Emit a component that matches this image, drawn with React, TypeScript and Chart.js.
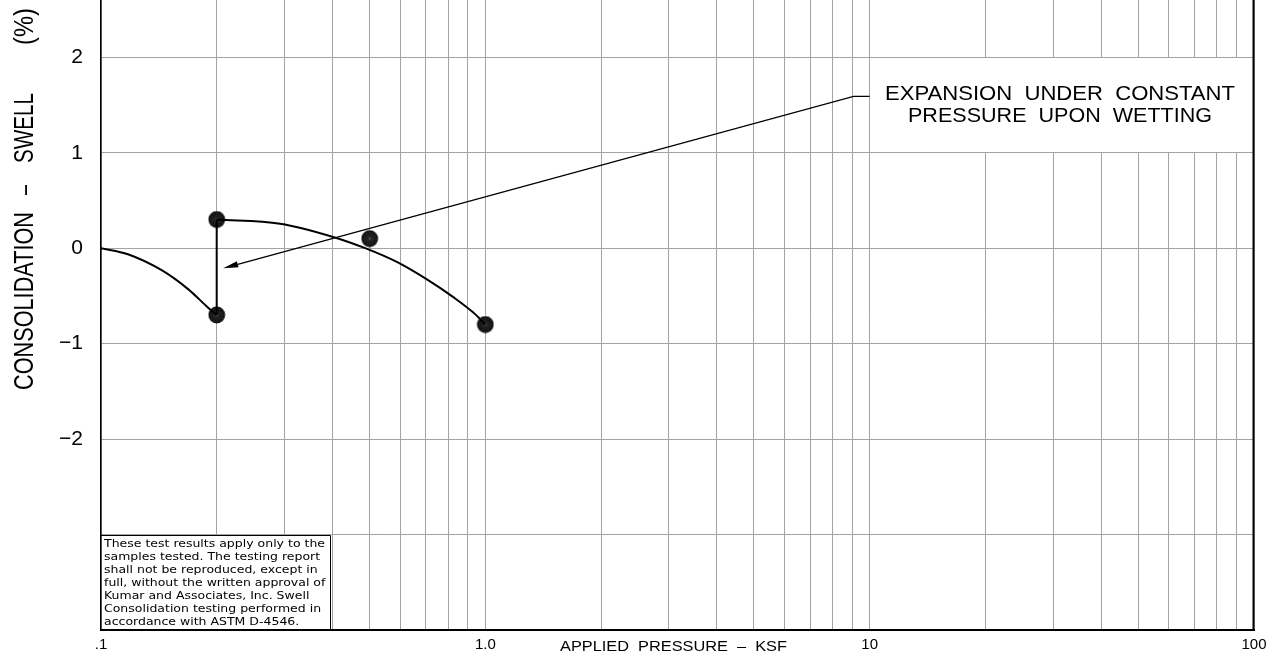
import React, { useEffect, useRef } from "react";
import { Chart, registerables } from "chart.js";

Chart.register(...registerables);

// Swell-consolidation test: applied pressure (ksf, log scale) vs. strain (%)
const LOAD_PRESSURE = [0.1, 0.1175, 0.1442, 0.1685, 0.19, 0.2];
const LOAD_STRAIN = [0, -0.063, -0.233, -0.429, -0.623, -0.7];

const WETTING_PRESSURE = [0.2, 0.2];
const WETTING_STRAIN = [-0.7, 0.3];

const RELOAD_PRESSURE = [0.2, 0.2924, 0.4019, 0.487, 0.5902, 0.7063, 0.8254, 0.9306, 1.0];
const RELOAD_STRAIN = [0.3, 0.257, 0.118, 0, -0.147, -0.33, -0.513, -0.675, -0.8];

const READING_PRESSURE = [0.2, 0.2, 0.5, 1.0];
const READING_STRAIN = [0.3, -0.7, 0.1, -0.8];

// Leader for the wetting note: arrow tip, knee, end at the note box
const LEADER_PRESSURE = [0.208, 9.08, 10];
const LEADER_STRAIN = [-0.21, 1.59, 1.59];

// Axis grid and labels
const X_GRID = [
  0.1, 0.2, 0.3, 0.4, 0.5, 0.6, 0.7, 0.8, 0.9,
  1, 2, 3, 4, 5, 6, 7, 8, 9,
  10, 20, 30, 40, 50, 60, 70, 80, 90, 100,
];
const X_LABEL_VALUES = [0.1, 1, 10, 100];
const X_LABEL_TEXT = [".1", "1.0", "10", "100"];
const Y_GRID = [-4, -3, -2, -1, 0, 1, 2];
const Y_LABEL_VALUES = [-2, -1, 0, 1, 2];

const NOTE_LINES = ["EXPANSION  UNDER  CONSTANT", "PRESSURE  UPON  WETTING"];
const DISCLAIMER_LINES = [
  "These test results apply only to the",
  "samples tested. The testing report",
  "shall not be reproduced, except in",
  "full, without the written approval of",
  "Kumar and Associates, Inc. Swell",
  "Consolidation testing performed in",
  "accordance with ASTM D-4546.",
];
const Y_TITLE_PARTS = ["CONSOLIDATION", "\u2013", "SWELL", "(%)"];
const X_TITLE = "APPLIED  PRESSURE  \u2013  KSF";

const SANS = "'Liberation Sans', Arial, sans-serif";

function pts(xs: number[], ys: number[]) {
  return xs.map((x, i) => ({ x, y: ys[i] }));
}

// Draws text stretched/compressed horizontally to an exact width.
function fitText(ctx: CanvasRenderingContext2D, text: string, x: number, y: number, width: number) {
  const w = ctx.measureText(text).width;
  ctx.save();
  ctx.translate(x, y);
  ctx.scale(width / w, 1);
  ctx.textAlign = "left";
  ctx.fillText(text, 0, 0);
  ctx.restore();
}

function makeMarker(): HTMLCanvasElement {
  const c = document.createElement("canvas");
  c.width = 18;
  c.height = 18;
  const g = c.getContext("2d")!;
  g.beginPath();
  g.arc(9, 9, 8.4, 0, Math.PI * 2);
  g.fillStyle = "#121212";
  g.fill();
  g.strokeStyle = "rgba(95,95,95,0.55)";
  g.lineWidth = 0.6;
  for (let i = 0; i < 12; i++) {
    const a = (i * Math.PI) / 6;
    g.beginPath();
    g.moveTo(9, 9);
    g.lineTo(9 + Math.cos(a) * 7, 9 + Math.sin(a) * 7);
    g.stroke();
  }
  return c;
}

const overlayPlugin = {
  id: "swellOverlay",
  beforeDatasetsDraw(chart: any) {
    const { ctx, chartArea } = chart;
    const xs = chart.scales.x;
    const ys = chart.scales.y;
    ctx.save();
    // note box (blank band between the 1% and 2% lines, right of 10 ksf)
    const nx = Math.round(xs.getPixelForValue(10)) + 1;
    const ny1 = Math.round(ys.getPixelForValue(2)) + 1;
    const ny2 = Math.round(ys.getPixelForValue(1)) - 1;
    ctx.fillStyle = "#ffffff";
    ctx.fillRect(nx, ny1, chartArea.right - 1 - nx, ny2 - ny1);

    // disclaimer box in the lower-left corner
    const bl = chartArea.left + 1;
    const bt = Math.round(ys.getPixelForValue(-3)) + 0.5;
    const br = 330.5;
    const bb = chartArea.bottom - 1;
    ctx.fillRect(bl, bt, br - bl, bb - bt);
    ctx.strokeStyle = "#000";
    ctx.lineWidth = 1;
    ctx.beginPath();
    ctx.moveTo(chartArea.left, bt);
    ctx.lineTo(br, bt);
    ctx.lineTo(br, chartArea.bottom);
    ctx.stroke();

    ctx.fillStyle = "#000";
    ctx.font = `11px 'DejaVu Sans', sans-serif`;
    ctx.textBaseline = "middle";
    const scale = 221 / ctx.measureText(DISCLAIMER_LINES[0]).width;
    DISCLAIMER_LINES.forEach((line, i) => {
      ctx.save();
      ctx.translate(104, 544 + i * 13.05);
      ctx.scale(scale, 1);
      ctx.textAlign = "left";
      ctx.fillText(line, 0, 0);
      ctx.restore();
    });

    // right frame line
    ctx.strokeStyle = "#000";
    ctx.lineWidth = 2;
    ctx.beginPath();
    ctx.moveTo(chartArea.right - 0.5, chartArea.top);
    ctx.lineTo(chartArea.right - 0.5, chartArea.bottom + 1);
    ctx.stroke();
    ctx.restore();
  },
  afterDatasetsDraw(chart: any) {
    const { ctx } = chart;
    const xs = chart.scales.x;
    const ys = chart.scales.y;
    ctx.save();
    // leader line with arrowhead
    const p = LEADER_PRESSURE.map((v, i) => ({
      x: xs.getPixelForValue(v),
      y: ys.getPixelForValue(LEADER_STRAIN[i]),
    }));
    ctx.strokeStyle = "#000";
    ctx.lineWidth = 1.3;
    const ang = Math.atan2(p[0].y - p[1].y, p[0].x - p[1].x);
    const headLen = 15;
    const baseX = p[0].x - Math.cos(ang) * headLen;
    const baseY = p[0].y - Math.sin(ang) * headLen;
    ctx.beginPath();
    ctx.moveTo(baseX, baseY);
    ctx.lineTo(p[1].x, p[1].y);
    ctx.lineTo(p[2].x, p[2].y);
    ctx.stroke();
    ctx.fillStyle = "#000";
    ctx.beginPath();
    ctx.moveTo(p[0].x, p[0].y);
    ctx.lineTo(baseX + Math.sin(ang) * 3.2, baseY - Math.cos(ang) * 3.2);
    ctx.lineTo(baseX - Math.sin(ang) * 3.2, baseY + Math.cos(ang) * 3.2);
    ctx.closePath();
    ctx.fill();

    // note text
    ctx.font = `21px ${SANS}`;
    ctx.textBaseline = "alphabetic";
    fitText(ctx, NOTE_LINES[0], 885, 100, 350);
    fitText(ctx, NOTE_LINES[1], 908, 122, 304);

    // x-axis title, set between the 1.0 and 10 labels
    ctx.font = `15px ${SANS}`;
    fitText(ctx, X_TITLE, 560, 650.5, 227);

    // y-axis title, rotated
    ctx.font = `28px ${SANS}`;
    const spans = [
      [390, 178],
      [195, 10],
      [163, 70],
      [45, 37],
    ];
    Y_TITLE_PARTS.forEach((t, i) => {
      ctx.save();
      ctx.translate(33, spans[i][0]);
      ctx.rotate(-Math.PI / 2);
      fitText(ctx, t, 0, 0, spans[i][1]);
      ctx.restore();
    });
    ctx.restore();
  },
};

export default function App() {
  const ref = useRef<HTMLCanvasElement | null>(null);

  useEffect(() => {
    if (!ref.current) return;
    const marker = makeMarker();
    const curve = {
      showLine: true,
      borderColor: "#000",
      borderWidth: 2,
      pointRadius: 0,
      cubicInterpolationMode: "monotone" as const,
      fill: false,
    };
    const chart = new Chart(ref.current, {
      type: "scatter",
      data: {
        datasets: [
          { ...curve, data: pts(LOAD_PRESSURE, LOAD_STRAIN) },
          { ...curve, cubicInterpolationMode: "default" as const, tension: 0, data: pts(WETTING_PRESSURE, WETTING_STRAIN) },
          { ...curve, data: pts(RELOAD_PRESSURE, RELOAD_STRAIN) },
          {
            showLine: false,
            data: pts(READING_PRESSURE, READING_STRAIN),
            pointStyle: marker,
            pointRadius: 9,
            backgroundColor: "#141414",
            borderColor: "#000",
          },
        ],
      },
      options: {
        animation: false,
        responsive: true,
        maintainAspectRatio: false,
        events: [],
        layout: { autoPadding: false, padding: { left: 0, right: 16, top: 0, bottom: 0 } },
        plugins: { legend: { display: false }, tooltip: { enabled: false } },
        scales: {
          x: {
            type: "logarithmic",
            min: 0.1,
            max: 100,
            afterBuildTicks: (s: any) => {
              s.ticks = X_GRID.map((v) => ({ value: v }));
            },
            afterFit: (s: any) => {
              s.height = 25;
              s.paddingLeft = 0;
              s.paddingRight = 0;
            },
            grid: { color: "#a3a3a3", lineWidth: 1, drawTicks: false },
            border: { color: "#000", width: 2 },
            ticks: {
              autoSkip: false,
              maxRotation: 0,
              padding: 6,
              color: "#000",
              font: { family: SANS, size: 15 },
              callback: (v: any) => {
                const i = X_LABEL_VALUES.findIndex((t) => Math.abs(t - Number(v)) < 1e-9);
                return i >= 0 ? X_LABEL_TEXT[i] : "";
              },
            },
          },
          y: {
            type: "linear",
            min: -4,
            max: 2.6,
            afterBuildTicks: (s: any) => {
              s.ticks = Y_GRID.map((v) => ({ value: v }));
            },
            afterFit: (s: any) => {
              s.width = 101;
              s.paddingTop = 0;
              s.paddingBottom = 0;
            },
            grid: { color: "#a3a3a3", lineWidth: 1, drawTicks: false },
            border: { color: "#000", width: 1.5 },
            ticks: {
              padding: 18,
              color: "#000",
              font: { family: SANS, size: 21 },
              callback: (v: any) => {
                const n = Number(v);
                if (!Y_LABEL_VALUES.includes(n)) return "";
                return n < 0 ? "\u2212" + Math.abs(n) : String(n);
              },
            },
          },
        },
      },
      plugins: [overlayPlugin],
    });
    return () => chart.destroy();
  }, []);

  return (
    <div style={{ position: "fixed", left: 0, top: 0, width: 1270, height: 655, background: "#fff" }}>
      <canvas ref={ref} />
    </div>
  );
}
